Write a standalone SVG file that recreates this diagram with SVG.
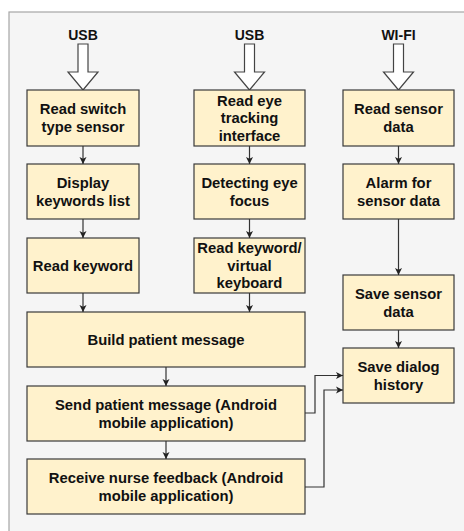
<svg xmlns="http://www.w3.org/2000/svg" width="464" height="531" viewBox="0 0 464 531">
<defs>
<style>
.bg{fill:#f5f5f5;stroke:#a6a6a6;stroke-width:1.2}
.box{fill:#fff2cc;stroke:#3a3a3a;stroke-width:1.2}
.t{font-family:"Liberation Sans",Arial,sans-serif;font-weight:bold;font-size:14.8px;fill:#111;text-anchor:middle}
.lbl{font-family:"Liberation Sans",Arial,sans-serif;font-weight:bold;font-size:14px;fill:#111;text-anchor:middle}
.blk{fill:#ffffff;stroke:#444;stroke-width:1.2}
.c{fill:none;stroke:#333;stroke-width:1.2}
</style>
<marker id="ah" markerWidth="8" markerHeight="8" refX="7" refY="4" orient="auto" markerUnits="userSpaceOnUse">
<path d="M0,0.5 L7,4 L0,7.5 L1.8,4 Z" fill="#222"/>
</marker>
</defs>
<rect class="bg" x="9" y="12" width="470" height="530"/>

<g id="inputs">
<text class="lbl" x="83" y="40">USB</text>
<path class="blk" d="M78,44 H88 V72 H98 L83,90 L68,72 H78 Z"/>
<text class="lbl" x="249.5" y="40">USB</text>
<path class="blk" d="M244.5,44 H254.5 V72 H264.5 L249.5,90 L234.5,72 H244.5 Z"/>
<text class="lbl" x="398.5" y="40">WI-FI</text>
<path class="blk" d="M393.5,44 H403.5 V72 H413.5 L398.5,90 L383.5,72 H393.5 Z"/>
</g>

<g id="n1"><rect class="box" x="27" y="90" width="112" height="56"/>
<text class="t" x="83" y="114">Read switch</text><text class="t" x="83" y="131.5">type sensor</text></g>
<g id="n2"><rect class="box" x="27" y="164" width="112" height="55"/>
<text class="t" x="83" y="188">Display</text><text class="t" x="83" y="205.5">keywords list</text></g>
<g id="n3"><rect class="box" x="27" y="238" width="112" height="55"/>
<text class="t" x="83" y="270.5">Read keyword</text></g>

<g id="n4"><rect class="box" x="194" y="90" width="111" height="56"/>
<text class="t" x="249.5" y="105.5">Read eye</text><text class="t" x="249.5" y="123">tracking</text><text class="t" x="249.5" y="140.5">interface</text></g>
<g id="n5"><rect class="box" x="194" y="164" width="111" height="55"/>
<text class="t" x="249.5" y="188">Detecting eye</text><text class="t" x="249.5" y="205.5">focus</text></g>
<g id="n6"><rect class="box" x="194" y="238" width="111" height="55"/>
<text class="t" x="249.5" y="253">Read keyword/</text><text class="t" x="249.5" y="270.5">virtual</text><text class="t" x="249.5" y="288">keyboard</text></g>

<g id="n7"><rect class="box" x="343" y="90" width="111" height="56"/>
<text class="t" x="398.5" y="114">Read sensor</text><text class="t" x="398.5" y="131.5">data</text></g>
<g id="n8"><rect class="box" x="343" y="164" width="111" height="55"/>
<text class="t" x="398.5" y="188">Alarm for</text><text class="t" x="398.5" y="205.5">sensor data</text></g>
<g id="n9"><rect class="box" x="343" y="275" width="111" height="55"/>
<text class="t" x="398.5" y="299">Save sensor</text><text class="t" x="398.5" y="316.5">data</text></g>
<g id="n10"><rect class="box" x="343" y="348" width="111" height="55"/>
<text class="t" x="398.5" y="372">Save dialog</text><text class="t" x="398.5" y="389.5">history</text></g>

<g id="n11"><rect class="box" x="27" y="312" width="278" height="55"/>
<text class="t" x="166" y="344.5">Build patient message</text></g>
<g id="n12"><rect class="box" x="27" y="386" width="278" height="55"/>
<text class="t" x="166" y="410">Send patient message (Android</text><text class="t" x="166" y="427.5">mobile application)</text></g>
<g id="n13"><rect class="box" x="27" y="459" width="278" height="55"/>
<text class="t" x="166" y="483">Receive nurse feedback (Android</text><text class="t" x="166" y="500.5">mobile application)</text></g>

<g id="connectors">
<path class="c" d="M83,146 V164" marker-end="url(#ah)"/>
<path class="c" d="M83,219 V238" marker-end="url(#ah)"/>
<path class="c" d="M83,293 V312" marker-end="url(#ah)"/>
<path class="c" d="M249.5,146 V164" marker-end="url(#ah)"/>
<path class="c" d="M249.5,219 V238" marker-end="url(#ah)"/>
<path class="c" d="M249.5,293 V312" marker-end="url(#ah)"/>
<path class="c" d="M398.5,146 V164" marker-end="url(#ah)"/>
<path class="c" d="M398.5,219 V275" marker-end="url(#ah)"/>
<path class="c" d="M398.5,330 V348" marker-end="url(#ah)"/>
<path class="c" d="M166,367 V386" marker-end="url(#ah)"/>
<path class="c" d="M166,441 V459" marker-end="url(#ah)"/>
<path class="c" d="M305,413 H315 V375.5 H343" marker-end="url(#ah)"/>
<path class="c" d="M305,487 H324 V390 H343" marker-end="url(#ah)"/>
</g>
</svg>
